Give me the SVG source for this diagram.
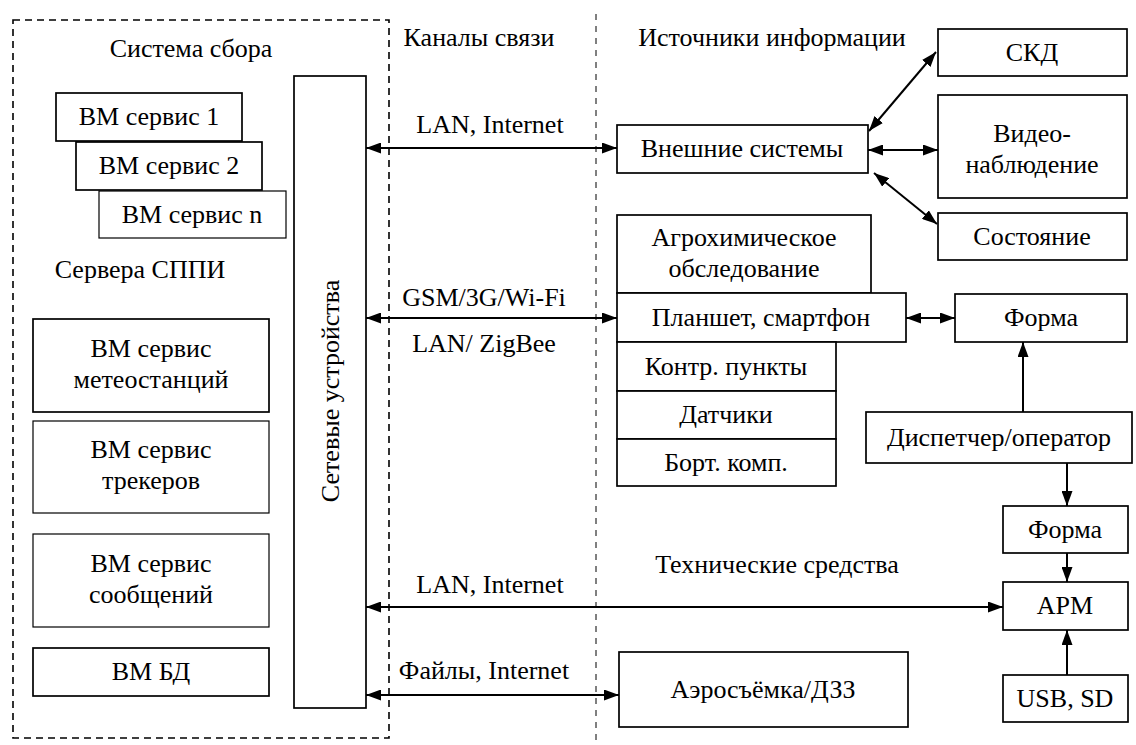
<svg xmlns="http://www.w3.org/2000/svg" width="1136" height="745" viewBox="0 0 1136 745">
<defs>
<marker id="ah" markerUnits="userSpaceOnUse" markerWidth="15" markerHeight="11" refX="15" refY="5.5" orient="auto-start-reverse" viewBox="0 0 15 11">
<path d="M0,0 L15,5.5 L0,11 z" fill="#000"/>
</marker>
</defs>
<rect width="1136" height="745" fill="#fff"/>

<g id="zones">
<rect x="13" y="20" width="376" height="718" fill="none" stroke="#000" stroke-width="1.6" stroke-dasharray="7,5"/>
<line x1="596" y1="14" x2="596" y2="745" stroke="#000" stroke-width="1" stroke-dasharray="6,6"/>
<text font-family="'Times New Roman', 'Liberation Serif', serif" font-size="26" text-anchor="middle" x="191" y="57">Система сбора</text>
<text font-family="'Times New Roman', 'Liberation Serif', serif" font-size="26" text-anchor="middle" x="140" y="278">Сервера СППИ</text>
<text font-family="'Times New Roman', 'Liberation Serif', serif" font-size="26" text-anchor="middle" x="479" y="46">Каналы связи</text>
<text font-family="'Times New Roman', 'Liberation Serif', serif" font-size="26" text-anchor="middle" x="772" y="46">Источники информации</text>
<text font-family="'Times New Roman', 'Liberation Serif', serif" font-size="26" text-anchor="middle" x="777" y="573">Технические средства</text>
</g>

<g id="vm1"><rect fill="#fff" stroke="#000" stroke-width="1.7" x="56" y="93" width="186" height="48"/><text font-family="'Times New Roman', 'Liberation Serif', serif" font-size="26" text-anchor="middle" x="149" y="125">ВМ сервис 1</text></g>
<g id="vm2"><rect fill="#fff" stroke="#000" stroke-width="1.7" x="76" y="142" width="186" height="48"/><text font-family="'Times New Roman', 'Liberation Serif', serif" font-size="26" text-anchor="middle" x="169" y="174">ВМ сервис 2</text></g>
<g id="vmn"><rect fill="#fff" stroke="#000" stroke-width="1.2" x="99" y="191" width="187" height="47"/><text font-family="'Times New Roman', 'Liberation Serif', serif" font-size="26" text-anchor="middle" x="192" y="223">ВМ сервис n</text></g>
<g id="meteo"><rect fill="#fff" stroke="#000" stroke-width="1.7" x="33" y="319" width="236" height="93"/><text font-family="'Times New Roman', 'Liberation Serif', serif" font-size="26" text-anchor="middle" x="151" y="357">ВМ сервис</text><text font-family="'Times New Roman', 'Liberation Serif', serif" font-size="26" text-anchor="middle" x="151" y="388">метеостанций</text></g>
<g id="trackers"><rect fill="#fff" stroke="#000" stroke-width="1.2" x="33" y="421" width="236" height="92"/><text font-family="'Times New Roman', 'Liberation Serif', serif" font-size="26" text-anchor="middle" x="151" y="458">ВМ сервис</text><text font-family="'Times New Roman', 'Liberation Serif', serif" font-size="26" text-anchor="middle" x="151" y="489">трекеров</text></g>
<g id="messages"><rect fill="#fff" stroke="#000" stroke-width="1.2" x="33" y="534" width="236" height="93"/><text font-family="'Times New Roman', 'Liberation Serif', serif" font-size="26" text-anchor="middle" x="151" y="572">ВМ сервис</text><text font-family="'Times New Roman', 'Liberation Serif', serif" font-size="26" text-anchor="middle" x="151" y="603">сообщений</text></g>
<g id="db"><rect fill="#fff" stroke="#000" stroke-width="1.7" x="33" y="648" width="236" height="48"/><text font-family="'Times New Roman', 'Liberation Serif', serif" font-size="26" text-anchor="middle" x="151" y="680">ВМ БД</text></g>
<g id="net"><rect fill="#fff" stroke="#000" stroke-width="1.7" x="294" y="76" width="72" height="632"/><text font-family="'Times New Roman', 'Liberation Serif', serif" font-size="26" text-anchor="middle" x="339" y="391" transform="rotate(-90 339 391)">Сетевые устройства</text></g>

<g id="ext"><rect fill="#fff" stroke="#000" stroke-width="1.7" x="617" y="125" width="251" height="48"/><text font-family="'Times New Roman', 'Liberation Serif', serif" font-size="26" text-anchor="middle" x="742" y="157">Внешние системы</text></g>
<g id="skd"><rect fill="#fff" stroke="#000" stroke-width="1.7" x="938" y="29" width="189" height="47"/><text font-family="'Times New Roman', 'Liberation Serif', serif" font-size="26" text-anchor="middle" x="1032" y="61">СКД</text></g>
<g id="video"><rect fill="#fff" stroke="#000" stroke-width="1.7" x="938" y="95" width="189" height="103"/><text font-family="'Times New Roman', 'Liberation Serif', serif" font-size="26" text-anchor="middle" x="1032" y="142">Видео-</text><text font-family="'Times New Roman', 'Liberation Serif', serif" font-size="26" text-anchor="middle" x="1032" y="173">наблюдение</text></g>
<g id="state"><rect fill="#fff" stroke="#000" stroke-width="1.7" x="938" y="213" width="189" height="47"/><text font-family="'Times New Roman', 'Liberation Serif', serif" font-size="26" text-anchor="middle" x="1032" y="245">Состояние</text></g>
<g id="agro"><rect fill="#fff" stroke="#000" stroke-width="1.7" x="617" y="215" width="254" height="78"/><text font-family="'Times New Roman', 'Liberation Serif', serif" font-size="26" text-anchor="middle" x="744" y="246">Агрохимическое</text><text font-family="'Times New Roman', 'Liberation Serif', serif" font-size="26" text-anchor="middle" x="744" y="277">обследование</text></g>
<g id="tablet"><rect fill="#fff" stroke="#000" stroke-width="1.7" x="617" y="293" width="289" height="49"/><text font-family="'Times New Roman', 'Liberation Serif', serif" font-size="26" text-anchor="middle" x="761" y="326">Планшет, смартфон</text></g>
<g id="checkpoints"><rect fill="#fff" stroke="#000" stroke-width="1.7" x="617" y="342" width="219" height="49"/><text font-family="'Times New Roman', 'Liberation Serif', serif" font-size="26" text-anchor="middle" x="726" y="375">Контр. пункты</text></g>
<g id="sensors"><rect fill="#fff" stroke="#000" stroke-width="1.7" x="617" y="391" width="219" height="48"/><text font-family="'Times New Roman', 'Liberation Serif', serif" font-size="26" text-anchor="middle" x="726" y="423">Датчики</text></g>
<g id="onboard"><rect fill="#fff" stroke="#000" stroke-width="1.7" x="617" y="439" width="219" height="47"/><text font-family="'Times New Roman', 'Liberation Serif', serif" font-size="26" text-anchor="middle" x="726" y="471">Борт. комп.</text></g>
<g id="form1"><rect fill="#fff" stroke="#000" stroke-width="1.7" x="955" y="294" width="172" height="48"/><text font-family="'Times New Roman', 'Liberation Serif', serif" font-size="26" text-anchor="middle" x="1041" y="326">Форма</text></g>
<g id="operator"><rect fill="#fff" stroke="#000" stroke-width="1.7" x="866" y="412" width="266" height="51"/><text font-family="'Times New Roman', 'Liberation Serif', serif" font-size="26" text-anchor="middle" x="999" y="446">Диспетчер/оператор</text></g>
<g id="form2"><rect fill="#fff" stroke="#000" stroke-width="1.7" x="1003" y="506" width="125" height="47"/><text font-family="'Times New Roman', 'Liberation Serif', serif" font-size="26" text-anchor="middle" x="1065" y="538">Форма</text></g>
<g id="arm"><rect fill="#fff" stroke="#000" stroke-width="1.7" x="1003" y="582" width="125" height="48"/><text font-family="'Times New Roman', 'Liberation Serif', serif" font-size="26" text-anchor="middle" x="1065" y="614">АРМ</text></g>
<g id="usb"><rect fill="#fff" stroke="#000" stroke-width="1.7" x="1003" y="675" width="125" height="47"/><text font-family="'Times New Roman', 'Liberation Serif', serif" font-size="26" text-anchor="middle" x="1065" y="707">USB, SD</text></g>
<g id="aero"><rect fill="#fff" stroke="#000" stroke-width="1.7" x="619" y="652" width="289" height="75"/><text font-family="'Times New Roman', 'Liberation Serif', serif" font-size="26" text-anchor="middle" x="763" y="698">Аэросъёмка/ДЗЗ</text></g>

<g id="connectors" stroke="#000" stroke-width="2" fill="none">
<line x1="366" y1="148" x2="617" y2="148" marker-start="url(#ah)" marker-end="url(#ah)"/>
<line x1="366" y1="318" x2="617" y2="318" marker-start="url(#ah)" marker-end="url(#ah)"/>
<line x1="366" y1="607" x2="1003" y2="607" marker-start="url(#ah)" marker-end="url(#ah)"/>
<line x1="366" y1="695" x2="619" y2="695" marker-start="url(#ah)" marker-end="url(#ah)"/>
<line x1="869" y1="131" x2="936" y2="52" marker-start="url(#ah)" marker-end="url(#ah)"/>
<line x1="868" y1="150" x2="938" y2="150" marker-start="url(#ah)" marker-end="url(#ah)"/>
<line x1="874" y1="173" x2="937" y2="224" marker-start="url(#ah)" marker-end="url(#ah)"/>
<line x1="906" y1="318" x2="955" y2="318" marker-start="url(#ah)" marker-end="url(#ah)"/>
<line x1="1023" y1="412" x2="1023" y2="342" marker-end="url(#ah)"/>
<line x1="1067" y1="463" x2="1067" y2="506" marker-end="url(#ah)"/>
<line x1="1067" y1="553" x2="1067" y2="582" marker-end="url(#ah)"/>
<line x1="1067" y1="675" x2="1067" y2="630" marker-end="url(#ah)"/>
</g>
<g id="connector-labels">
<text font-family="'Times New Roman', 'Liberation Serif', serif" font-size="26" text-anchor="middle" x="490" y="133">LAN, Internet</text>
<text font-family="'Times New Roman', 'Liberation Serif', serif" font-size="26" text-anchor="middle" x="484" y="306">GSM/3G/Wi-Fi</text>
<text font-family="'Times New Roman', 'Liberation Serif', serif" font-size="26" text-anchor="middle" x="484" y="352">LAN/ ZigBee</text>
<text font-family="'Times New Roman', 'Liberation Serif', serif" font-size="26" text-anchor="middle" x="490" y="593">LAN, Internet</text>
<text font-family="'Times New Roman', 'Liberation Serif', serif" font-size="26" text-anchor="middle" x="484" y="679">Файлы, Internet</text>
</g>
</svg>
